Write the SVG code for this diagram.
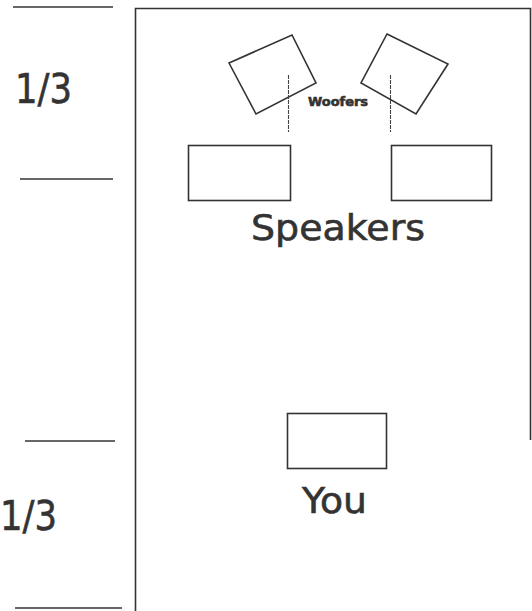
<svg xmlns="http://www.w3.org/2000/svg" width="532" height="611" viewBox="0 0 532 611">
<style>
.ln{stroke:#333;stroke-width:1.6;fill:none}
.bx{stroke:#333;stroke-width:1.6;fill:#fff}
.ax{stroke:#444;stroke-width:1.1;stroke-dasharray:4 1;fill:none}
.t{font-family:"Century Gothic","URW Gothic","DejaVu Sans","Liberation Sans",sans-serif;fill:#333;stroke:#333;stroke-width:0.6}
</style>
<rect width="532" height="611" fill="#fff"/>
<g id="room">
<path class="ln" d="M135.5,611 V8.5 H530.5 V440"/>
</g>
<g id="thirds">
<line class="ln" x1="13" y1="7" x2="113" y2="7"/>
<line class="ln" x1="20" y1="179" x2="113" y2="179"/>
<line class="ln" x1="25" y1="441" x2="115" y2="441"/>
<line class="ln" x1="15" y1="608" x2="122" y2="608"/>
<text class="t" x="15" y="103" font-size="40" textLength="57" lengthAdjust="spacingAndGlyphs">1/3</text>
<text class="t" x="0" y="530" font-size="40" textLength="57" lengthAdjust="spacingAndGlyphs">1/3</text>
</g>
<g id="woofer-left">
<polygon class="bx" points="229,63 292,35 316,83 256,114"/>
</g>
<g id="woofer-right">
<polygon class="bx" points="387,34 448,64 416,114 361,83"/>
</g>
<g id="connectors">
<line class="ax" x1="288.5" y1="75" x2="288.5" y2="132"/>
<line class="ax" x1="390.5" y1="75" x2="390.5" y2="132"/>
</g>
<g id="woofers-label">
<text class="t" x="308" y="106" font-size="12" font-weight="bold" stroke-width="0.3" textLength="60" lengthAdjust="spacingAndGlyphs">Woofers</text>
</g>
<g id="speaker-left">
<rect class="bx" x="188.5" y="145.5" width="102" height="55"/>
</g>
<g id="speaker-right">
<rect class="bx" x="391.5" y="145.5" width="100" height="55"/>
</g>
<g id="speakers-label">
<text class="t" x="251" y="240" font-size="35" textLength="174" lengthAdjust="spacingAndGlyphs">Speakers</text>
</g>
<g id="you">
<rect class="bx" x="287.5" y="413.5" width="99" height="55"/>
<text class="t" x="302" y="513" font-size="36" textLength="65" lengthAdjust="spacingAndGlyphs">You</text>
</g>
</svg>
